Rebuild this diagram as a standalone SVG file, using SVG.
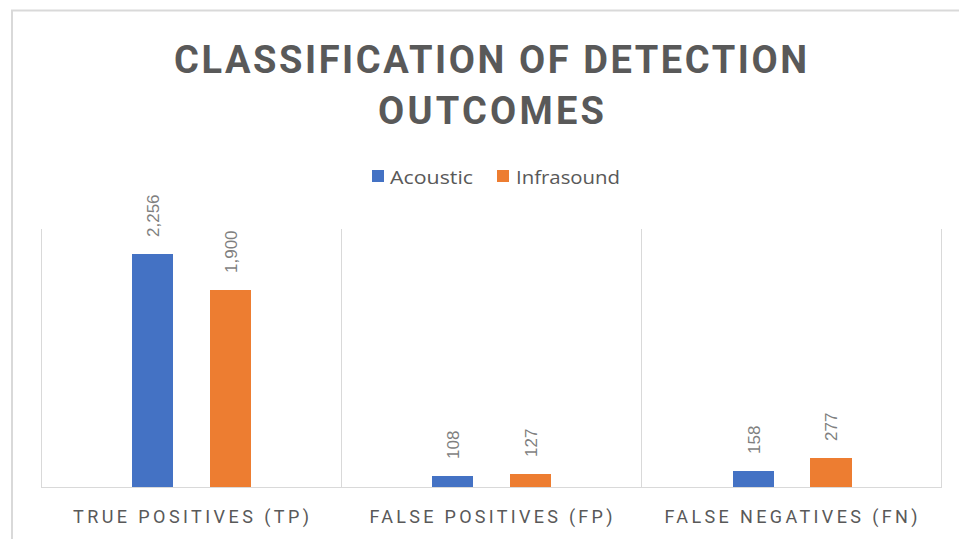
<svg xmlns="http://www.w3.org/2000/svg" width="959" height="539" viewBox="0 0 959 539">
<style>
.grid{stroke:#d9d9d9;stroke-width:1;fill:none}
.title{font-family:Roboto,"Open Sans","Liberation Sans",sans-serif;font-weight:bold;font-size:38px;fill:#595959}
.leg{font-family:"Open Sans","Liberation Sans",sans-serif;font-size:19px;fill:#595959}
.cat{font-family:Roboto,"Liberation Sans",sans-serif;font-size:18px;fill:#595959}
.val{font-family:"Liberation Sans",sans-serif;font-size:17px;fill:#7f7f7f}
.ac{fill:#4472c4}
.inf{fill:#ed7d31}
</style>
<rect x="0" y="0" width="959" height="539" fill="#ffffff"/>
<path d="M12 540 V10.5 H959" stroke="#d9d9d9" stroke-width="2" fill="none"/>
<g id="title">
<text class="title" x="490.5" y="73" text-anchor="middle" textLength="633" lengthAdjust="spacing">CLASSIFICATION OF DETECTION</text>
<text class="title" x="491" y="124" text-anchor="middle" textLength="226" lengthAdjust="spacing">OUTCOMES</text>
</g>
<g id="legend">
<rect class="ac" x="372" y="170" width="12" height="12"/>
<text class="leg" x="390" y="184" textLength="83" lengthAdjust="spacingAndGlyphs">Acoustic</text>
<rect class="inf" x="497" y="170" width="12" height="12"/>
<text class="leg" x="516" y="184" textLength="104" lengthAdjust="spacingAndGlyphs">Infrasound</text>
</g>
<g id="connectors">
<path class="grid" d="M41.5 229 V487 M341.5 229 V487 M641.5 229 V487 M941.5 229 V487 M41 487.5 H942"/>
</g>
<g id="tp">
<rect class="ac" x="132" y="254" width="41" height="233"/>
<rect class="inf" x="210" y="290" width="41" height="197"/>
<text class="val" transform="translate(158.5,237) rotate(-90)">2,256</text>
<text class="val" transform="translate(236.5,273) rotate(-90)">1,900</text>
<text class="cat" x="191" y="523" text-anchor="middle" textLength="236" lengthAdjust="spacing">TRUE POSITIVES (TP)</text>
</g>
<g id="fp">
<rect class="ac" x="432" y="476" width="41" height="11"/>
<rect class="inf" x="510" y="474" width="41" height="13"/>
<text class="val" transform="translate(458.5,459) rotate(-90)">108</text>
<text class="val" transform="translate(536.5,457) rotate(-90)">127</text>
<text class="cat" x="491" y="523" text-anchor="middle" textLength="243" lengthAdjust="spacing">FALSE POSITIVES (FP)</text>
</g>
<g id="fn">
<rect class="ac" x="733" y="471" width="41" height="16"/>
<rect class="inf" x="810" y="458" width="42" height="29"/>
<text class="val" transform="translate(759.5,454) rotate(-90)">158</text>
<text class="val" transform="translate(837,441) rotate(-90)">277</text>
<text class="cat" x="791" y="523" text-anchor="middle" textLength="253" lengthAdjust="spacing">FALSE NEGATIVES (FN)</text>
</g>
</svg>
